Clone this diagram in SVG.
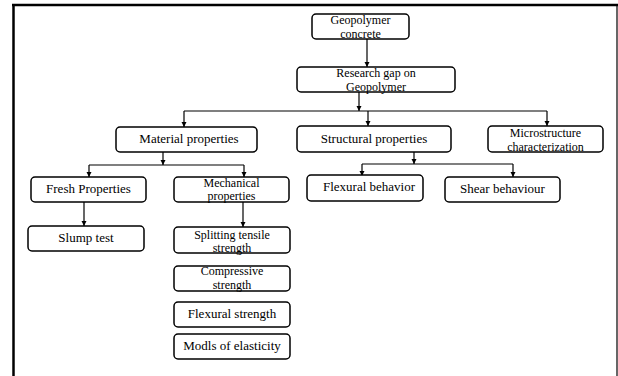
<svg xmlns="http://www.w3.org/2000/svg" width="618" height="376" viewBox="0 0 618 376">
<defs>
<marker id="ah" markerWidth="6" markerHeight="6" refX="5" refY="3" orient="auto" markerUnits="userSpaceOnUse">
<path d="M0,0.5 L5,3 L0,5.5 Z" fill="#000"/>
</marker>
<style>
.box{fill:#fff;stroke:#000;stroke-width:1.5}
.t{font-family:'Liberation Serif','Times New Roman','DejaVu Serif',serif;font-size:13px;fill:#000;text-anchor:middle}
.s{font-size:12px}
.c{fill:none;stroke:#000;stroke-width:1.2}
.a{fill:none;stroke:#000;stroke-width:1.2;marker-end:url(#ah)}
</style>
</defs>
<rect width="618" height="376" fill="#fff"/>
<line x1="13.5" y1="4" x2="13.5" y2="376" stroke="#000" stroke-width="2.5"/>
<line x1="12" y1="5" x2="618" y2="5" stroke="#000" stroke-width="2.5"/>
<line x1="617" y1="4" x2="617" y2="376" stroke="#000" stroke-width="1.2"/>

<g id="connectors">
<line class="a" x1="367" y1="39" x2="367" y2="67"/>
<line class="a" x1="359" y1="92" x2="359" y2="111"/>
<line class="c" x1="184" y1="111" x2="547" y2="111"/>
<line class="a" x1="184" y1="111" x2="184" y2="127"/>
<line class="a" x1="368" y1="111" x2="368" y2="126"/>
<line class="a" x1="547" y1="111" x2="547" y2="126"/>
<line class="a" x1="163" y1="152" x2="163" y2="165"/>
<line class="c" x1="89" y1="165" x2="244" y2="165"/>
<line class="a" x1="89" y1="165" x2="89" y2="177"/>
<line class="a" x1="244" y1="165" x2="244" y2="177"/>
<line class="a" x1="84" y1="202" x2="84" y2="226"/>
<line class="a" x1="243" y1="202" x2="243" y2="227"/>
<line class="a" x1="414" y1="152" x2="414" y2="164"/>
<line class="c" x1="362" y1="164" x2="513" y2="164"/>
<line class="a" x1="362" y1="164" x2="362" y2="176"/>
<line class="a" x1="513" y1="164" x2="513" y2="177"/>
</g>

<g id="geopolymer-concrete">
<rect class="box" x="312" y="14" width="97" height="25" rx="4"/>
<text class="t s" x="360.5" y="24" font-family="Liberation Serif, serif">Geopolymer</text>
<text class="t s" x="360.5" y="37.5" font-family="Liberation Serif, serif">concrete</text>
</g>
<g id="research-gap">
<rect class="box" x="297" y="67" width="158" height="25" rx="4"/>
<text class="t s" x="376" y="77" font-family="Liberation Serif, serif">Research gap on</text>
<text class="t s" x="376" y="90.5" font-family="Liberation Serif, serif">Geopolymer</text>
</g>
<g id="material-properties">
<rect class="box" x="116" y="127" width="141" height="25" rx="4"/>
<text class="t" x="189" y="143" font-family="Liberation Serif, serif">Material properties</text>
</g>
<g id="structural-properties">
<rect class="box" x="297" y="126" width="154" height="26" rx="4"/>
<text class="t" x="374" y="143" font-family="Liberation Serif, serif">Structural properties</text>
</g>
<g id="microstructure">
<rect class="box" x="488" y="126" width="115" height="26" rx="4"/>
<text class="t s" x="545.5" y="137" font-family="Liberation Serif, serif">Microstructure</text>
<text class="t s" x="545.5" y="150.5" font-family="Liberation Serif, serif">characterization</text>
</g>
<g id="fresh-properties">
<rect class="box" x="31" y="177" width="115" height="25" rx="4"/>
<text class="t" x="88.5" y="193" font-family="Liberation Serif, serif">Fresh Properties</text>
</g>
<g id="mechanical-properties">
<rect class="box" x="174" y="177" width="115" height="25" rx="4"/>
<text class="t s" x="231.5" y="186.5" font-family="Liberation Serif, serif">Mechanical</text>
<text class="t s" x="231.5" y="200" font-family="Liberation Serif, serif">properties</text>
</g>
<g id="slump-test">
<rect class="box" x="28" y="226" width="116" height="25" rx="4"/>
<text class="t" x="86" y="242" font-family="Liberation Serif, serif">Slump test</text>
</g>
<g id="splitting-tensile">
<rect class="box" x="174" y="227" width="116" height="26" rx="4"/>
<text class="t s" x="232" y="238.5" font-family="Liberation Serif, serif">Splitting tensile</text>
<text class="t s" x="232" y="252" font-family="Liberation Serif, serif">strength</text>
</g>
<g id="compressive">
<rect class="box" x="174" y="266" width="116" height="25" rx="4"/>
<text class="t s" x="232" y="275" font-family="Liberation Serif, serif">Compressive</text>
<text class="t s" x="232" y="288.5" font-family="Liberation Serif, serif">strength</text>
</g>
<g id="flexural-strength">
<rect class="box" x="174" y="302" width="116" height="25" rx="4"/>
<text class="t" x="232" y="318" font-family="Liberation Serif, serif">Flexural strength</text>
</g>
<g id="modls-elasticity">
<rect class="box" x="174" y="334" width="116" height="25" rx="4"/>
<text class="t" x="232" y="350" font-family="Liberation Serif, serif">Modls of elasticity</text>
</g>
<g id="flexural-behavior">
<rect class="box" x="307" y="175" width="116" height="26" rx="4"/>
<text class="t" x="369" y="191" font-family="Liberation Serif, serif">Flexural behavior</text>
</g>
<g id="shear-behaviour">
<rect class="box" x="445" y="177" width="115" height="25" rx="4"/>
<text class="t" x="502.5" y="193" font-family="Liberation Serif, serif">Shear behaviour</text>
</g>
</svg>
